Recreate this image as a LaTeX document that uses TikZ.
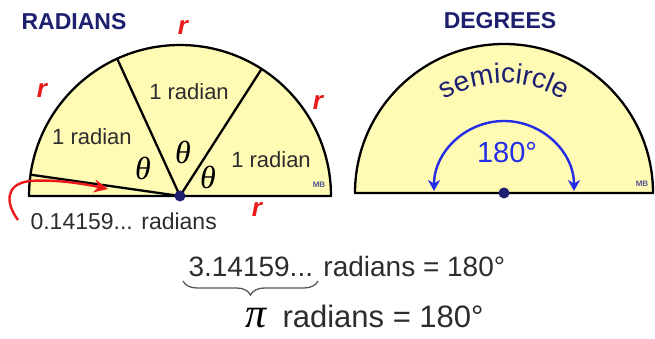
\documentclass[tikz,border=0pt]{standalone}
\usepackage{fontspec}
\setmainfont{Liberation Sans}
\newfontfamily\greekserif{Liberation Serif}
\usepackage{xcolor}
\usepackage{tikz}
\usetikzlibrary{arrows.meta, positioning, calc, decorations.text, decorations.pathreplacing}
\definecolor{titlenavy}{RGB}{28, 32, 110}
\definecolor{sectoryellow}{RGB}{255, 250, 180}
\definecolor{radiusred}{RGB}{235, 25, 25}
\definecolor{angleblue}{RGB}{35, 45, 230}
\definecolor{textgray}{RGB}{45, 45, 45}

\tikzset{
    sector/.style={fill=sectoryellow, draw=black, line width=2.3pt, line join=round},
    ray/.style={black, line width=2.3pt},
    heading/.style={text=titlenavy, font=\fontsize{23}{23}\selectfont\bfseries},
    rlabel/.style={text=radiusred, font=\fontsize{26}{26}\selectfont\bfseries\itshape},
    radlabel/.style={text=textgray, font=\fontsize{22}{22}\selectfont},
    thetalabel/.style={font=\fontsize{32}{32}\selectfont\greekserif\itshape},
    mblabel/.style={text=titlenavy!75, font=\fontsize{8}{8}\selectfont\bfseries},
    centredot/.style={circle, fill=titlenavy, inner sep=0pt, minimum size=11pt},
}

\begin{document}
\begin{tikzpicture}[x=1pt, y=1pt]
    \useasboundingbox (0,0) rectangle (655,339);

    % Titles
    \node[heading] (radtitle) at (74,317) {RADIANS};
    \node[heading] (degtitle) at (500,318) {DEGREES};

    % Radians semicircle
    \coordinate (lcentre) at (180,143);
    \path[sector] (lcentre) ++(151,0) arc (0:180:151) -- cycle;
    \foreach \k in {1,2,3} {
        \coordinate (rim\k) at ($(lcentre)+({deg(\k)}:151)$);
        \draw[ray] (lcentre) -- (rim\k);
    }
    \node[centredot] (ldot) at (lcentre) {};

    % Arc lengths
    \node[rlabel] (rtop) at (183,311) {r};
    \node[rlabel] (rleft) at (42,248) {r};
    \node[rlabel] (rright) at (318,236) {r};
    \node[rlabel] (rbottom) at (257,129) {r};

    % Sectors
    \node[radlabel] (radtop) at (189,247) {1 radian};
    \node[radlabel] (radleft) at (92,202) {1 radian};
    \node[radlabel] (radright) at (271,179) {1 radian};
    \node[thetalabel] (thleft) at (143,171) {θ};
    \node[thetalabel] (thmid) at (183,187) {θ};
    \node[thetalabel] (thright) at (208,162) {θ};
    \node[mblabel] (lmark) at (319,154) {MB};

    % Leftover
    \node[radlabel, anchor=west, font=\fontsize{23}{23}\selectfont] (leftover) at (27,117.5) {0.14159... radians};
    \coordinate (arrowtail) at (18,119);
    \coordinate (arrowbend) at (30,158);
    \coordinate (arrowtip) at (108,150);
    \draw[radiusred, line width=2.4pt, -{Stealth[length=14pt, width=13pt]}] (arrowtail) .. controls (6,135) and (4,155) .. (arrowbend) .. controls (55,160) and (85,155) .. (arrowtip);

    % Degrees semicircle
    \coordinate (rcentre) at (504,146);
    \path[sector] (rcentre) ++(149,0) arc (0:180:149) -- cycle;
    \path[decorate, decoration={text along path, text align=center, text color=titlenavy,
        text={|\fontsize{28}{28}\selectfont|semicircle}}] ($(rcentre)+(152:110)$) arc (152:28:110);
    \coordinate (arcstart) at ($(rcentre)+(-70,2)$);
    \draw[angleblue, line width=2.4pt, {Stealth[length=11pt, width=12pt]}-{Stealth[length=11pt, width=12pt]}] (arcstart) arc (180:0:70);
    \node[text=angleblue, font=\fontsize{29}{29}\selectfont, anchor=base] (degvalue) at (507,176) {180°};
    \node[centredot] (rdot) at (rcentre) {};
    \node[mblabel] (rmark) at (642,155) {MB};

    % Equations
    \node[anchor=base west, text=textgray, font=\fontsize{28}{28}\selectfont] (approxline) at (185,62) {3.14159... radians = 180°};
    \coordinate (bracestart) at (183,58);
    \coordinate (braceend) at (318,58);
    \draw[textgray!80, line width=1.3pt, decorate, decoration={brace, mirror, amplitude=14pt}] (bracestart) -- (braceend);
    \node[anchor=base, font=\fontsize{42}{42}\selectfont\greekserif\itshape] (piglyph) at (256,11) {π};
    \node[anchor=base west, text=textgray, font=\fontsize{31}{31}\selectfont] (exactline) at (279,11) {radians = 180°};
\end{tikzpicture}
\end{document}
